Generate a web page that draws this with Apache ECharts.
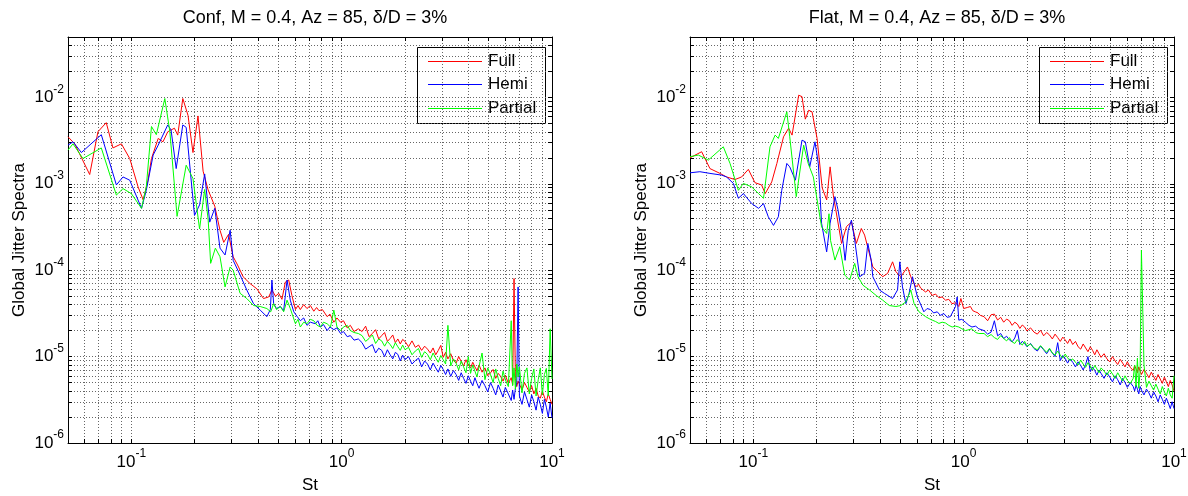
<!DOCTYPE html>
<html>
<head>
<meta charset="utf-8">
<script src="https://cdn.jsdelivr.net/npm/echarts@6/dist/echarts.min.js"></script>
<style>
  html, body { margin: 0; padding: 0; background: #fff; }
  #chart { width: 1188px; height: 496px; }
</style>
</head>
<body>
<div id="chart"></div>
<script>
// ---- Panel titles and series names ----
const panelTitles = ['Conf, M = 0.4, Az = 85, \u03B4/D = 3%', 'Flat, M = 0.4, Az = 85, \u03B4/D = 3%'];
const seriesNames = ['Full', 'Hemi', 'Partial'];
const seriesColors = ['#ff0000', '#0000ff', '#00ff00'];

// ---- Axis extents and tick positions (data units) ----
const stRange = [0.05, 10];
const spectraRange = [1e-6, 0.05];
const stGridTicks = [0.06, 0.07, 0.08, 0.09, 0.1, 0.2, 0.3, 0.4, 0.5, 0.6, 0.7, 0.8, 0.9, 1, 2, 3, 4, 5, 6, 7, 8, 9, 10];
const stLabelTicks = [0.1, 1, 10];
const spectraGridTicks = [
  1e-6, 2e-6, 3e-6, 4e-6, 5e-6, 6e-6, 7e-6, 8e-6, 9e-6,
  1e-5, 2e-5, 3e-5, 4e-5, 5e-5, 6e-5, 7e-5, 8e-5, 9e-5,
  1e-4, 2e-4, 3e-4, 4e-4, 5e-4, 6e-4, 7e-4, 8e-4, 9e-4,
  1e-3, 2e-3, 3e-3, 4e-3, 5e-3, 6e-3, 7e-3, 8e-3, 9e-3,
  1e-2, 2e-2, 3e-2, 4e-2
];
const spectraLabelTicks = [1e-6, 1e-5, 1e-4, 1e-3, 1e-2];

// ---- Low/mid Strouhal range: [St, spectrum] pairs ----
const confFullLow = [[0.05,3.5e-3],[0.0538,2.9e-3],[0.0634,1.28e-3],[0.0694,4.0e-3],[0.076,5.1e-3],[0.0818,2.6e-3],[0.0897,2.9e-3],[0.0983,1.96e-3],[0.1077,9.2e-4],[0.1139,6.5e-4],[0.12,1.1e-3],[0.1247,1.96e-3],[0.1342,3.35e-3],[0.1414,3.06e-3],[0.149,4.0e-3],[0.1603,4.4e-3],[0.1662,3.66e-3],[0.1757,9.7e-3],[0.186,6.2e-3],[0.1964,2.3e-3],[0.2075,6.1e-3],[0.2194,1.4e-3],[0.2318,8.5e-4],[0.2493,5.5e-4],[0.264,2.9e-4],[0.275,2.1e-4],[0.29,2.6e-4],[0.305,1.43e-4],[0.32,1.15e-4],[0.34,8.4e-5],[0.367,7.0e-5],[0.395,6.1e-5],[0.425,4.7e-5],[0.45,4.9e-5],[0.466,5.9e-5],[0.485,5.0e-5],[0.502,5.4e-5],[0.52,4.6e-5],[0.54,7.3e-5],[0.56,7.7e-5],[0.58,5.1e-5],[0.603,3.5e-5],[0.62,3.9e-5],[0.636,3.5e-5],[0.66,4.0e-5],[0.684,3.6e-5],[0.71,3.9e-5],[0.737,3.35e-5],[0.76,3.7e-5],[0.78,3.4e-5],[0.81,3.5e-5],[0.853,2.9e-5],[0.88,3.1e-5],[0.918,2.5e-5],[0.95,2.8e-5],[0.988,2.5e-5],[1.02,2.6e-5],[1.063,2.15e-5],[1.1,2.3e-5],[1.145,1.95e-5],[1.2,2.1e-5]];
const confHemiLow = [[0.05,2.8e-3],[0.0528,3.06e-3],[0.0579,2.3e-3],[0.072,3.7e-3],[0.0849,9.7e-4],[0.0913,1.2e-3],[0.0983,1.1e-3],[0.1118,5.2e-4],[0.1178,8.4e-4],[0.127,2.15e-3],[0.1342,2.8e-3],[0.149,4.8e-3],[0.1545,4.2e-3],[0.1634,1.5e-3],[0.1757,4.8e-3],[0.1823,4.5e-3],[0.1997,4.3e-4],[0.2111,5.7e-4],[0.2232,1.3e-3],[0.2359,3.6e-4],[0.2493,5.2e-4],[0.264,1.8e-4],[0.279,1.5e-4],[0.295,2.9e-4],[0.305,1.3e-4],[0.329,8.8e-5],[0.354,5.9e-5],[0.381,4.1e-5],[0.41,3.45e-5],[0.441,2.9e-5],[0.458,3.5e-5],[0.466,7.7e-5],[0.475,4.1e-5],[0.49,3.6e-5],[0.511,3.8e-5],[0.53,3.4e-5],[0.55,7.7e-5],[0.57,4.5e-5],[0.592,3.3e-5],[0.615,2.9e-5],[0.636,2.6e-5],[0.66,2.8e-5],[0.684,2.3e-5],[0.71,2.5e-5],[0.75,2.4e-5],[0.77,2.6e-5],[0.793,2.2e-5],[0.82,2.35e-5],[0.853,2.0e-5],[0.88,2.2e-5],[0.918,2.05e-5],[0.95,2.15e-5],[0.988,1.85e-5],[1.02,1.95e-5],[1.063,1.7e-5],[1.1,1.75e-5],[1.145,1.55e-5],[1.2,1.6e-5]];
const confPartialLow = [[0.05,2.45e-3],[0.0528,2.9e-3],[0.0589,1.96e-3],[0.072,2.6e-3],[0.0849,7.4e-4],[0.0913,8.8e-4],[0.1,7.7e-4],[0.1118,5.2e-4],[0.1178,9.2e-4],[0.1247,4.6e-3],[0.1315,3.7e-3],[0.1443,9.7e-3],[0.1525,4.0e-3],[0.165,4.2e-4],[0.1823,1.64e-3],[0.1964,1.15e-3],[0.2111,3.0e-4],[0.2232,8.6e-4],[0.232,3.8e-4],[0.2383,1.2e-4],[0.251,1.8e-4],[0.264,1.43e-4],[0.279,6.4e-5],[0.295,1.09e-4],[0.305,1.0e-4],[0.329,5.4e-5],[0.354,4.7e-5],[0.381,3.9e-5],[0.41,3.8e-5],[0.441,3.6e-5],[0.46,3.3e-5],[0.475,4.1e-5],[0.49,3.5e-5],[0.511,3.8e-5],[0.53,3.3e-5],[0.55,4.5e-5],[0.57,3.6e-5],[0.603,2.4e-5],[0.62,2.7e-5],[0.636,2.2e-5],[0.66,2.5e-5],[0.684,2.4e-5],[0.71,2.7e-5],[0.737,2.6e-5],[0.765,2.3e-5],[0.793,2.2e-5],[0.82,2.5e-5],[0.853,2.4e-5],[0.885,2.2e-5],[0.918,3.45e-5],[0.95,2.2e-5],[0.988,2.0e-5],[1.02,2.2e-5],[1.063,2.3e-5],[1.1,2.0e-5],[1.145,1.9e-5],[1.2,1.85e-5]];

const flatFullLow = [[0.05,2.0e-3],[0.0568,2.35e-3],[0.0622,1.5e-3],[0.0694,1.32e-3],[0.0746,1.2e-3],[0.0818,1.12e-3],[0.088,1.2e-3],[0.0947,1.47e-3],[0.1018,1.03e-3],[0.1095,9.7e-4],[0.1139,7.7e-4],[0.1223,1.05e-3],[0.1294,1.72e-3],[0.1392,3.5e-3],[0.1472,4.4e-3],[0.1528,3.66e-3],[0.1643,1.06e-2],[0.1704,1.02e-2],[0.1767,5.6e-3],[0.1834,7.1e-3],[0.1902,6.8e-3],[0.201,3.35e-3],[0.2125,9.0e-4],[0.2232,6.5e-4],[0.2318,1.57e-3],[0.24,7.4e-4],[0.2627,2.04e-4],[0.2773,3.2e-4],[0.2927,3.6e-4],[0.3089,2.04e-4],[0.3261,3.04e-4],[0.3381,2.55e-4],[0.37,1.09e-4],[0.3906,9.6e-5],[0.4123,8.4e-5],[0.4352,9.2e-5],[0.4593,1.25e-4],[0.4763,9.6e-5],[0.5027,8.4e-5],[0.5406,1.09e-4],[0.5606,8.4e-5],[0.5917,6.4e-5],[0.61,6.9e-5],[0.6245,6.2e-5],[0.6592,5.6e-5],[0.68,5.9e-5],[0.7089,5.1e-5],[0.735,5.3e-5],[0.7624,4.8e-5],[0.79,4.9e-5],[0.82,4.5e-5],[0.85,4.6e-5],[0.88,4.1e-5],[0.915,4.2e-5],[0.948,3.8e-5],[0.97,4.7e-5],[1.0,3.6e-5],[1.04,3.7e-5],[1.077,3.8e-5],[1.105,3.4e-5],[1.136,3.3e-5],[1.17,3.2e-5],[1.2,3.0e-5]];
const flatHemiLow = [[0.05,1.34e-3],[0.0557,1.38e-3],[0.0622,1.32e-3],[0.0707,1.26e-3],[0.0746,1.2e-3],[0.0804,1.01e-3],[0.0849,6.8e-4],[0.0897,7.7e-4],[0.0983,5.9e-4],[0.1059,5.2e-4],[0.1118,5.9e-4],[0.1178,4.15e-4],[0.1247,3.3e-4],[0.1315,4.15e-4],[0.1365,8.4e-4],[0.1443,1.72e-3],[0.149,1.57e-3],[0.1585,1.1e-3],[0.1704,3.2e-3],[0.1767,3.06e-3],[0.1854,1.57e-3],[0.1964,3.06e-3],[0.2037,1.72e-3],[0.2111,3.5e-4],[0.2232,1.63e-4],[0.2318,3.5e-4],[0.2444,7.1e-4],[0.2527,5.0e-4],[0.2678,2.04e-4],[0.2731,1.3e-4],[0.2827,2.9e-4],[0.2927,3.8e-4],[0.3034,2.23e-4],[0.3203,8.4e-5],[0.3381,9.2e-5],[0.3503,2.04e-4],[0.3634,1.31e-4],[0.37,8.4e-5],[0.3977,5.9e-5],[0.4198,5.4e-5],[0.4593,4.7e-5],[0.4848,5.9e-5],[0.4972,1.25e-4],[0.5118,6.4e-5],[0.5312,4.1e-5],[0.5504,5.4e-5],[0.571,8.4e-5],[0.6027,4.9e-5],[0.6468,3.3e-5],[0.67,3.6e-5],[0.6965,3.5e-5],[0.72,3.2e-5],[0.7488,3.3e-5],[0.775,3.0e-5],[0.8047,3.15e-5],[0.835,2.85e-5],[0.8645,2.9e-5],[0.9147,3.8e-5],[0.9316,4.9e-5],[0.9483,2.64e-5],[0.98,2.7e-5],[1.019,2.5e-5],[1.06,2.3e-5],[1.095,2.2e-5],[1.14,2.25e-5],[1.18,2.1e-5]];
const flatPartialLow = [[0.05,2.06e-3],[0.0548,2.15e-3],[0.0611,1.88e-3],[0.072,2.68e-3],[0.0775,1.72e-3],[0.0849,8.4e-4],[0.0897,1.01e-3],[0.0983,9.2e-4],[0.1059,7.7e-4],[0.1118,6.8e-4],[0.12,2.68e-3],[0.127,3.66e-3],[0.1315,3.35e-3],[0.1443,6.8e-3],[0.149,3.5e-3],[0.16,7.1e-4],[0.1735,2.8e-3],[0.1823,1.72e-3],[0.1929,1.2e-3],[0.2111,3.18e-4],[0.2232,2.66e-4],[0.229,4.5e-4],[0.233,2.2e-4],[0.2444,1.31e-4],[0.2577,1.87e-4],[0.272,8.8e-5],[0.2871,7.7e-5],[0.3034,1.2e-4],[0.3147,8.4e-5],[0.3321,6.7e-5],[0.3569,5.9e-5],[0.3838,5.1e-5],[0.4123,4.5e-5],[0.443,3.9e-5],[0.4763,3.8e-5],[0.5027,3.9e-5],[0.5312,4.3e-5],[0.5606,5.9e-5],[0.5812,4.1e-5],[0.6134,3.3e-5],[0.635,3.1e-5],[0.6592,2.9e-5],[0.685,2.75e-5],[0.7089,2.64e-5],[0.735,2.55e-5],[0.7624,2.42e-5],[0.79,2.5e-5],[0.82,2.45e-5],[0.85,2.3e-5],[0.8818,2.2e-5],[0.915,2.25e-5],[0.948,2.2e-5],[0.98,2.1e-5],[1.019,2.0e-5],[1.06,2.05e-5],[1.095,2.1e-5],[1.14,1.9e-5],[1.18,1.85e-5]];

// ---- High Strouhal range: shared St grid, one spectrum value per grid point ----
const stHigh = [
  1.25, 1.3, 1.35, 1.4, 1.45, 1.5, 1.55, 1.6, 1.65, 1.7, 1.75, 1.8, 1.85, 1.9, 1.95, 2.0,
  2.08, 2.16, 2.24, 2.32, 2.4, 2.48, 2.56, 2.64, 2.72, 2.8, 2.88, 2.96, 3.04, 3.12, 3.2,
  3.3, 3.4, 3.5, 3.6, 3.7, 3.8, 3.9, 4.0, 4.1, 4.2, 4.3, 4.4, 4.5,
  4.65, 4.8, 4.95, 5.1, 5.25, 5.4, 5.55, 5.7, 5.85, 6.0,
  6.2, 6.4, 6.5, 6.6, 6.7, 6.8, 6.9, 7.0, 7.2, 7.4, 7.6, 7.8, 8.0,
  8.2, 8.4, 8.6, 8.8, 9.0, 9.2, 9.4, 9.6, 9.8, 10.0
];
const confFullHigh = [
  1.95e-5, 2.25e-5, 1.7e-5, 1.85e-5, 2.05e-5, 1.6e-5, 1.75e-5, 1.9e-5, 1.5e-5, 1.62e-5, 1.78e-5, 1.45e-5, 1.6e-5, 1.4e-5, 1.58e-5, 1.5e-5,
  1.3e-5, 1.52e-5, 1.28e-5, 1.36e-5, 1.18e-5, 1.32e-5, 1.22e-5, 1.1e-5, 1.26e-5, 1.05e-5, 1.18e-5, 1.35e-5, 9.8e-6, 1.12e-5, 9.4e-6,
  1.08e-5, 9.0e-6, 8.4e-6, 1.0e-5, 8.8e-6, 7.8e-6, 9.2e-6, 8.0e-6, 7.4e-6, 8.6e-6, 7.6e-6, 6.9e-6, 8.0e-6,
  6.6e-6, 7.4e-6, 6.0e-6, 6.5e-6, 7.1e-6, 5.6e-6, 6.4e-6, 5.9e-6, 5.2e-6, 6.1e-6,
  4.9e-6, 5.7e-6, 4.7e-6, 8.0e-5, 5.6e-6, 4.5e-6, 5.2e-6, 4.8e-6, 4.1e-6, 5.0e-6, 4.4e-6, 3.9e-6, 4.6e-6,
  3.7e-6, 4.3e-6, 3.5e-6, 3.3e-6, 4.0e-6, 3.4e-6, 3.0e-6, 3.7e-6, 3.2e-6, 2.8e-6
];
const confHemiHigh = [
  1.45e-5, 1.22e-5, 1.3e-5, 1.38e-5, 1.1e-5, 1.25e-5, 1.18e-5, 1.0e-5, 1.2e-5, 1.05e-5, 9.4e-6, 1.12e-5, 1.06e-5, 8.9e-6, 1.04e-5, 9.2e-6,
  1.0e-5, 8.2e-6, 9.0e-6, 9.6e-6, 7.6e-6, 8.9e-6, 8.2e-6, 7.0e-6, 8.4e-6, 7.4e-6, 6.6e-6, 7.9e-6, 7.1e-6, 6.2e-6, 7.2e-6,
  5.9e-6, 6.9e-6, 6.2e-6, 5.3e-6, 6.5e-6, 5.6e-6, 4.9e-6, 6.0e-6, 5.2e-6, 4.6e-6, 5.7e-6, 4.9e-6, 4.3e-6,
  5.3e-6, 4.6e-6, 3.9e-6, 5.0e-6, 4.3e-6, 3.6e-6, 4.7e-6, 4.0e-6, 3.4e-6, 4.4e-6,
  3.7e-6, 3.1e-6, 4.1e-6, 3.2e-6, 4.3e-6, 5.0e-6, 6.4e-5, 3.5e-6, 2.8e-6, 3.9e-6, 3.2e-6, 2.6e-6, 3.6e-6,
  3.0e-6, 2.4e-6, 3.4e-6, 2.8e-6, 2.2e-6, 3.2e-6, 2.6e-6, 2.0e-6, 2.9e-6, 1.95e-6
];
const confPartialHigh = [
  1.75e-5, 1.5e-5, 1.62e-5, 1.78e-5, 1.42e-5, 1.6e-5, 1.52e-5, 1.32e-5, 1.5e-5, 1.38e-5, 1.24e-5, 1.45e-5, 1.3e-5, 1.18e-5, 1.36e-5, 1.2e-5,
  1.28e-5, 1.05e-5, 1.16e-5, 1.24e-5, 9.8e-6, 1.14e-5, 1.06e-5, 9.2e-6, 1.1e-5, 9.6e-6, 8.6e-6, 1.03e-5, 9.2e-6, 8.2e-6, 2.3e-5,
  7.8e-6, 9.4e-6, 8.4e-6, 7.0e-6, 8.9e-6, 7.6e-6, 6.5e-6, 1.0e-5, 6.4e-6, 8.0e-6, 6.8e-6, 5.8e-6, 7.7e-6,
  1.1e-5, 5.4e-6, 7.4e-6, 6.2e-6, 5.0e-6, 7.2e-6, 5.6e-6, 4.6e-6, 6.8e-6, 5.4e-6,
  4.5e-6, 2.6e-5, 4.6e-6, 7.4e-6, 4.2e-6, 8.2e-6, 5.8e-6, 7.6e-6, 3.8e-6, 6.4e-6, 7.4e-6, 3.7e-6, 5.6e-6,
  7.2e-6, 3.5e-6, 5.4e-6, 7.4e-6, 3.6e-6, 6.2e-6, 7.3e-6, 3.5e-6, 2.1e-5, 5.5e-6
];
const flatFullHigh = [
  2.9e-5, 2.6e-5, 3.05e-5, 3.1e-5, 2.65e-5, 2.85e-5, 2.5e-5, 2.72e-5, 2.6e-5, 2.3e-5, 2.5e-5, 2.38e-5, 2.12e-5, 2.32e-5, 2.2e-5, 1.98e-5,
  2.15e-5, 1.92e-5, 1.82e-5, 2.02e-5, 1.74e-5, 1.9e-5, 1.78e-5, 1.6e-5, 1.82e-5, 1.66e-5, 1.5e-5, 1.68e-5, 1.56e-5, 1.42e-5, 1.6e-5,
  1.38e-5, 1.5e-5, 1.3e-5, 1.22e-5, 1.4e-5, 1.26e-5, 1.14e-5, 1.3e-5, 1.18e-5, 1.05e-5, 1.2e-5, 1.08e-5, 9.8e-6,
  1.08e-5, 9.4e-6, 8.7e-6, 1.0e-5, 8.9e-6, 8.1e-6, 9.3e-6, 8.4e-6, 7.6e-6, 8.7e-6,
  7.5e-6, 6.9e-6, 7.9e-6, 7.2e-6, 6.5e-6, 7.6e-6, 6.8e-6, 6.2e-6, 7.1e-6, 6.4e-6, 5.7e-6, 6.6e-6, 5.9e-6,
  5.3e-6, 6.2e-6, 5.5e-6, 4.9e-6, 5.8e-6, 5.1e-6, 4.5e-6, 5.3e-6, 4.7e-6, 4.0e-6
];
const flatHemiHigh = [
  2.0e-5, 1.82e-5, 1.92e-5, 2.6e-5, 1.74e-5, 1.85e-5, 1.62e-5, 1.72e-5, 1.56e-5, 1.48e-5, 1.64e-5, 2.0e-5, 1.38e-5, 1.5e-5, 1.42e-5, 1.3e-5,
  1.42e-5, 1.24e-5, 1.16e-5, 1.32e-5, 1.2e-5, 1.08e-5, 1.22e-5, 1.1e-5, 1.0e-5, 1.45e-5, 9.0e-6, 1.03e-5, 9.5e-6, 8.4e-6, 9.4e-6,
  8.6e-6, 7.6e-6, 8.7e-6, 7.9e-6, 7.0e-6, 8.1e-6, 1.0e-5, 6.7e-6, 7.6e-6, 6.9e-6, 6.1e-6, 7.0e-6, 6.4e-6,
  5.6e-6, 6.5e-6, 5.8e-6, 5.1e-6, 6.0e-6, 5.4e-6, 4.7e-6, 5.6e-6, 5.0e-6, 4.4e-6,
  5.0e-6, 4.5e-6, 4.0e-6, 4.7e-6, 4.2e-6, 3.7e-6, 4.5e-6, 4.1e-6, 3.6e-6, 4.2e-6, 3.8e-6, 3.3e-6, 3.9e-6,
  3.5e-6, 3.0e-6, 3.6e-6, 3.2e-6, 2.8e-6, 3.3e-6, 2.9e-6, 2.5e-6, 3.0e-6, 2.5e-6
];
const flatPartialHigh = [
  1.85e-5, 1.7e-5, 1.8e-5, 1.66e-5, 1.58e-5, 1.75e-5, 1.62e-5, 1.52e-5, 1.66e-5, 1.48e-5, 1.42e-5, 1.57e-5, 1.45e-5, 1.36e-5, 1.5e-5, 1.32e-5,
  1.4e-5, 1.26e-5, 1.2e-5, 1.34e-5, 1.22e-5, 1.12e-5, 1.25e-5, 1.1e-5, 1.04e-5, 1.16e-5, 1.04e-5, 9.6e-6, 1.07e-5, 9.7e-6, 9.0e-6,
  9.4e-6, 8.6e-6, 8.0e-6, 9.1e-6, 8.2e-6, 7.5e-6, 8.5e-6, 7.8e-6, 7.0e-6, 7.9e-6, 7.2e-6, 6.5e-6, 7.4e-6,
  6.8e-6, 6.1e-6, 7.0e-6, 6.3e-6, 5.6e-6, 6.5e-6, 5.8e-6, 5.2e-6, 6.0e-6, 5.3e-6,
  4.9e-6, 5.6e-6, 8.0e-6, 4.5e-6, 9.6e-6, 4.3e-6, 6.8e-6, 1.71e-4, 8.0e-6, 4.4e-6, 5.2e-6, 4.6e-6, 4.1e-6,
  4.8e-6, 4.2e-6, 3.7e-6, 4.5e-6, 3.9e-6, 3.5e-6, 4.3e-6, 3.6e-6, 3.3e-6, 6.0e-6
];

// ---- Build the chart ----
const FONT = '"Liberation Sans", Arial, Helvetica, sans-serif';
const log10 = Math.log10;

// both axes are logarithmic: plot log10 of the values on linear value axes
function buildSeriesData(lowPairs, highValues) {
  const pts = lowPairs.map(p => [log10(p[0]), log10(p[1])]);
  stHigh.forEach((st, i) => pts.push([log10(st), log10(highValues[i])]));
  return pts;
}

const panelData = [
  [buildSeriesData(confFullLow, confFullHigh), buildSeriesData(confHemiLow, confHemiHigh), buildSeriesData(confPartialLow, confPartialHigh)],
  [buildSeriesData(flatFullLow, flatFullHigh), buildSeriesData(flatHemiLow, flatHemiHigh), buildSeriesData(flatPartialLow, flatPartialHigh)]
];

const gridBoxes = [
  { left: 68, top: 37, width: 484, height: 406 },
  { left: 690, top: 37, width: 484, height: 406 }
];

// legend box layout inside each panel (pixels relative to the panel)
const legendBox = { dx: 349, top: 47, width: 128, height: 76, padLeft: 11, keyWidth: 54, firstRow: 14, rowStep: 23.5, textGap: 6 };

const powerLabel = v => '{b|10}{s|' + Math.round(v) + '}';
const powerRich = {
  b: { fontSize: 17, fontFamily: FONT, color: '#000', lineHeight: 28, verticalAlign: 'middle' },
  s: { fontSize: 12, fontFamily: FONT, color: '#000', lineHeight: 12, verticalAlign: 'top' }
};
const gridLineStyle = { color: '#666', width: 1, type: [1, 2] };
const tickStyle = { inside: true, length: 4, lineStyle: { color: '#000', width: 1 } };
const frameLine = { show: true, onZero: false, lineStyle: { color: '#000', width: 1 } };

const xAxes = [], yAxes = [], series = [], titles = [], graphics = [];

gridBoxes.forEach((g, p) => {
  titles.push({
    text: panelTitles[p],
    left: g.left + g.width / 2,
    top: 4,
    textAlign: 'center',
    textStyle: { fontSize: 18, fontWeight: 'normal', fontFamily: FONT, color: '#000' }
  });

  const xBase = {
    gridIndex: p, type: 'value',
    min: log10(stRange[0]), max: log10(stRange[1])
  };
  xAxes.push(Object.assign({}, xBase, {
    position: 'bottom',
    name: 'St', nameLocation: 'middle', nameGap: 34,
    nameTextStyle: { fontSize: 17, fontFamily: FONT, color: '#000' },
    axisLine: frameLine,
    axisTick: Object.assign({ customValues: stGridTicks.map(log10) }, tickStyle),
    axisLabel: { customValues: stLabelTicks.map(log10), formatter: powerLabel, rich: powerRich, margin: 5 },
    splitLine: { show: true, lineStyle: gridLineStyle }
  }));
  xAxes.push(Object.assign({}, xBase, {
    position: 'top',
    axisLine: frameLine,
    axisTick: Object.assign({ customValues: stGridTicks.map(log10) }, tickStyle),
    axisLabel: { show: false },
    splitLine: { show: false }
  }));

  const yBase = {
    gridIndex: p, type: 'value',
    min: log10(spectraRange[0]), max: log10(spectraRange[1])
  };
  yAxes.push(Object.assign({}, yBase, {
    position: 'left',
    name: 'Global Jitter Spectra', nameLocation: 'middle', nameGap: 40, nameRotate: 90,
    nameTextStyle: { fontSize: 17, fontFamily: FONT, color: '#000' },
    axisLine: frameLine,
    axisTick: Object.assign({ customValues: spectraGridTicks.map(log10) }, tickStyle),
    axisLabel: { customValues: spectraLabelTicks.map(log10), formatter: powerLabel, rich: powerRich, margin: 4 },
    splitLine: { show: true, lineStyle: gridLineStyle }
  }));
  yAxes.push(Object.assign({}, yBase, {
    position: 'right',
    axisLine: frameLine,
    axisTick: Object.assign({ customValues: spectraGridTicks.map(log10) }, tickStyle),
    axisLabel: { show: false },
    splitLine: { show: false }
  }));

  seriesNames.forEach((name, k) => {
    series.push({
      name: name,
      type: 'line',
      xAxisIndex: 2 * p,
      yAxisIndex: 2 * p,
      data: panelData[p][k],
      symbol: 'none',
      showSymbol: false,
      smooth: false,
      sampling: null,
      lineStyle: { color: seriesColors[k], width: 1 },
      itemStyle: { color: seriesColors[k] },
      emphasis: { disabled: true },
      animation: false
    });
  });

  // legend: framed white box, one line key and one name per series
  const lx = g.left + legendBox.dx;
  const children = [{
    type: 'rect',
    shape: { x: lx + 0.5, y: legendBox.top + 0.5, width: legendBox.width, height: legendBox.height },
    style: { fill: '#fff', stroke: '#000', lineWidth: 1 }
  }];
  seriesNames.forEach((name, k) => {
    const cy = legendBox.top + legendBox.firstRow + k * legendBox.rowStep;
    const ly = Math.floor(cy) + 0.5;
    children.push({
      type: 'line',
      shape: { x1: lx + legendBox.padLeft, y1: ly, x2: lx + legendBox.padLeft + legendBox.keyWidth, y2: ly },
      style: { stroke: seriesColors[k], lineWidth: 1 }
    });
    children.push({
      type: 'text',
      x: lx + legendBox.padLeft + legendBox.keyWidth + legendBox.textGap,
      y: cy,
      style: { text: name, fontSize: 17, fontFamily: FONT, fill: '#000', verticalAlign: 'middle', align: 'left' }
    });
  });
  graphics.push({ type: 'group', z: 100, silent: true, children: children });
});

const chart = echarts.init(document.getElementById('chart'), null, { renderer: 'canvas' });
chart.setOption({
  animation: false,
  backgroundColor: '#fff',
  title: titles,
  grid: gridBoxes.map(g => Object.assign({ containLabel: false, outerBoundsMode: 'none', show: false }, g)),
  xAxis: xAxes,
  yAxis: yAxes,
  series: series,
  graphic: graphics
});
</script>
</body>
</html>
